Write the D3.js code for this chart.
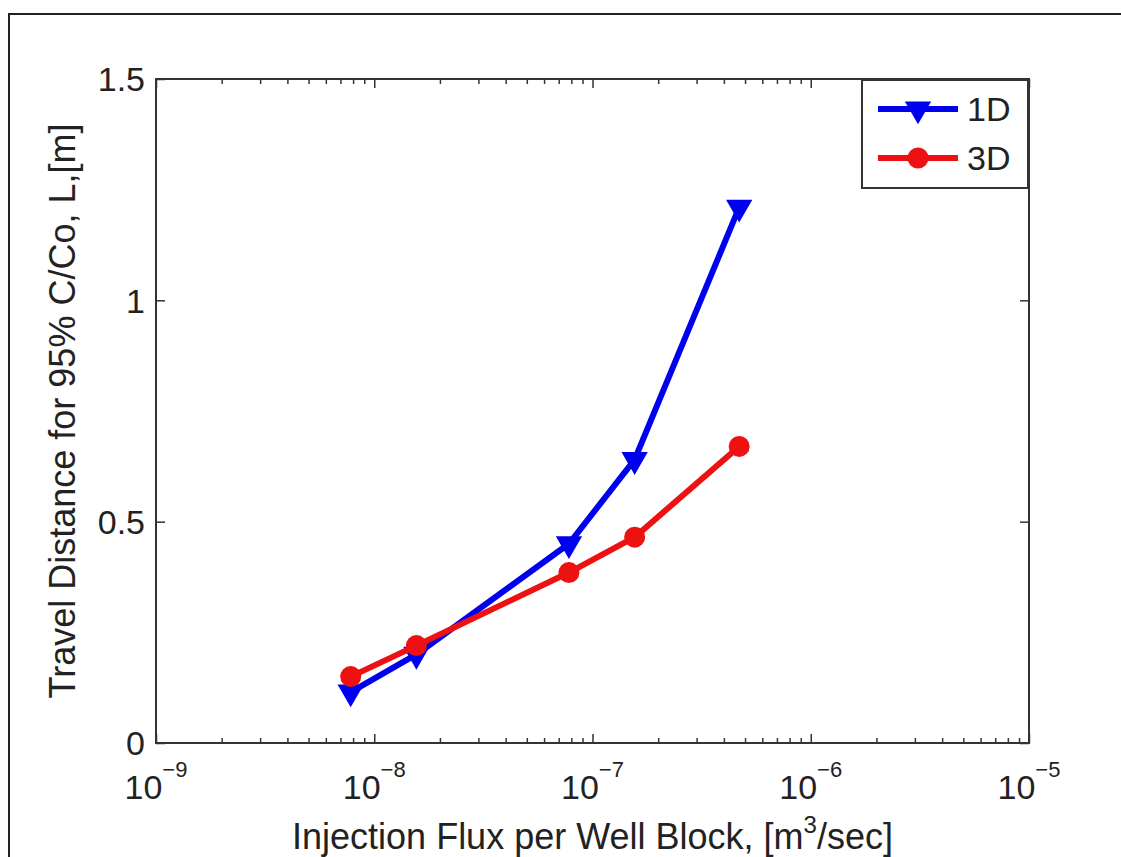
<!DOCTYPE html>
<html>
  <head>
    <title>Travel distance vs injection flux</title>
    <style>
      body { margin: 0; background: #fff; }
      svg text { font-family: "Liberation Sans", Arial, Helvetica, sans-serif; fill: #222; }
    </style>
  </head>
  <body>
    <div id="chart"></div>
  </body>
  <script src="https://d3js.org/d3.v7.min.js"></script>
  <script>

    // data
    let fluxValues = [7.8e-9, 1.56e-8, 7.8e-8, 1.56e-7, 4.7e-7];
    let travel1D = [0.115, 0.2, 0.45, 0.64, 1.21];
    let travel3D = [0.15, 0.22, 0.385, 0.465, 0.67];
    let seriesNames = ["1D", "3D"];
    let xTickExponents = [-9, -8, -7, -6, -5];
    let yTicks = [0, 0.5, 1, 1.5];

    let fullWidth = 1121, fullHeight = 857;
    let margin = {top: 79, right: 92, bottom: 114, left: 156};
    let width = fullWidth - margin.left - margin.right;
    let height = fullHeight - margin.top - margin.bottom;

    let xScale = d3.scaleLog()
      .domain([1e-9, 1e-5])
      .range([0, width]);
    let yScale = d3.scaleLinear()
      .domain([0, 1.5])
      .range([height, 0]);

    let svg = d3.select("#chart").append("svg")
      .attr("width", fullWidth)
      .attr("height", fullHeight);

    // outer frame of the figure (only left & top edges are visible)
    svg.append("path")
      .attr("d", "M9," + fullHeight + "V14H" + fullWidth)
      .attr("fill", "none")
      .attr("stroke", "#222")
      .attr("stroke-width", 2);

    let g = svg.append("g")
      .attr("transform", "translate(" + margin.left + "," + margin.top + ")");

    // minor + major log ticks on bottom and top (inside)
    let minorTicks = [];
    xTickExponents.slice(0, -1).forEach(function(e) {
      for (let k = 2; k <= 9; k++) minorTicks.push(k * Math.pow(10, e));
    });
    let majorTicks = xTickExponents.map(function(e) { return Math.pow(10, e); });

    function noDomain(a) { a.select(".domain").remove(); }

    g.append("g")
      .attr("transform", "translate(0," + height + ")")
      .call(d3.axisBottom(xScale).tickValues(minorTicks).tickSize(-5).tickFormat(""))
      .call(noDomain);
    g.append("g")
      .call(d3.axisTop(xScale).tickValues(minorTicks).tickSize(-5).tickFormat(""))
      .call(noDomain);

    g.append("g")
      .attr("transform", "translate(0," + height + ")")
      .call(d3.axisBottom(xScale).tickValues(majorTicks).tickSize(-9).tickFormat(""))
      .call(noDomain);
    g.append("g")
      .call(d3.axisTop(xScale).tickValues(majorTicks).tickSize(-9).tickFormat(""))
      .call(noDomain);

    // y ticks on left and right (inside)
    g.append("g")
      .call(d3.axisLeft(yScale).tickValues(yTicks).tickSize(-9).tickFormat(""))
      .call(noDomain);
    g.append("g")
      .attr("transform", "translate(" + width + ",0)")
      .call(d3.axisRight(yScale).tickValues(yTicks).tickSize(-9).tickFormat(""))
      .call(noDomain);

    g.selectAll(".tick line").attr("stroke", "#333").attr("stroke-width", 1.5);

    // axes box
    g.append("rect")
      .attr("width", width)
      .attr("height", height)
      .attr("fill", "none")
      .attr("stroke", "#333")
      .attr("stroke-width", 2);

    // y tick labels
    g.selectAll(".ylab")
      .data(yTicks)
      .enter().append("text")
      .attr("class", "ylab")
      .attr("x", -11)
      .attr("y", function(d) { return yScale(d); })
      .attr("dy", "0.36em")
      .attr("text-anchor", "end")
      .attr("font-size", 34)
      .text(function(d) { return d; });

    // x tick labels 10^n
    let xl = g.selectAll(".xlab")
      .data(xTickExponents)
      .enter().append("text")
      .attr("class", "xlab")
      .attr("x", function(d) { return xScale(Math.pow(10, d)); })
      .attr("y", height + 56)
      .attr("text-anchor", "middle")
      .attr("font-size", 34);
    xl.append("tspan").text("10");
    xl.append("tspan")
      .attr("dy", -22)
      .attr("font-size", 22)
      .text(function(d) { return "\u2212" + Math.abs(d); });

    // axis titles
    let xt = g.append("text")
      .attr("x", width / 2)
      .attr("y", height + 106)
      .attr("text-anchor", "middle")
      .attr("font-size", 36);
    xt.append("tspan").text("Injection Flux per Well Block, [m");
    xt.append("tspan").attr("dy", -16).attr("font-size", 24).text("3");
    xt.append("tspan").attr("dy", 16).text("/sec]");

    g.append("text")
      .attr("transform", "translate(-81," + (height / 2) + ") rotate(-90)")
      .attr("text-anchor", "middle")
      .attr("font-size", 36)
      .text("Travel Distance for 95% C/Co, L,[m]");

    // series
    let series = [
      {name: seriesNames[0], values: travel1D, color: "#0000f0", marker: "tri"},
      {name: seriesNames[1], values: travel3D, color: "#ee1111", marker: "circ"}
    ];

    let line = d3.line()
      .x(function(d) { return xScale(d[0]); })
      .y(function(d) { return yScale(d[1]); });

    let triangle = d3.symbol().type(d3.symbolTriangle).size(300);

    function drawMarker(sel, s) {
      if (s.marker === "tri") {
        sel.append("path")
          .attr("d", triangle)
          .attr("transform", function(d) { return "translate(" + d.x + "," + d.y + ") rotate(180)"; })
          .attr("fill", s.color);
      } else {
        sel.append("circle")
          .attr("cx", function(d) { return d.x; })
          .attr("cy", function(d) { return d.y; })
          .attr("r", 10.5)
          .attr("fill", s.color);
      }
    }

    series.forEach(function(s) {
      let pts = fluxValues.map(function(x, i) { return [x, s.values[i]]; });
      g.append("path")
        .datum(pts)
        .attr("d", line)
        .attr("fill", "none")
        .attr("stroke", s.color)
        .attr("stroke-width", 6)
        .attr("stroke-linejoin", "round");
      let m = g.append("g").selectAll("g")
        .data(pts.map(function(p) { return {x: xScale(p[0]), y: yScale(p[1])}; }))
        .enter().append("g");
      drawMarker(m, s);
    });

    // legend
    let legend = g.append("g")
      .attr("transform", "translate(" + (width - 167) + ",1)");
    legend.append("rect")
      .attr("width", 166)
      .attr("height", 108)
      .attr("fill", "#fff")
      .attr("stroke", "#333")
      .attr("stroke-width", 2);

    series.forEach(function(s, i) {
      let row = legend.append("g")
        .attr("transform", "translate(0," + (29 + i * 49) + ")");
      row.append("line")
        .attr("x1", 16).attr("x2", 96)
        .attr("stroke", s.color)
        .attr("stroke-width", 6);
      drawMarker(row.append("g").datum({x: 56, y: 0}), s);
      row.append("text")
        .attr("x", 105)
        .attr("dy", "0.36em")
        .attr("font-size", 34)
        .text(s.name);
    });

  </script>
</html>
